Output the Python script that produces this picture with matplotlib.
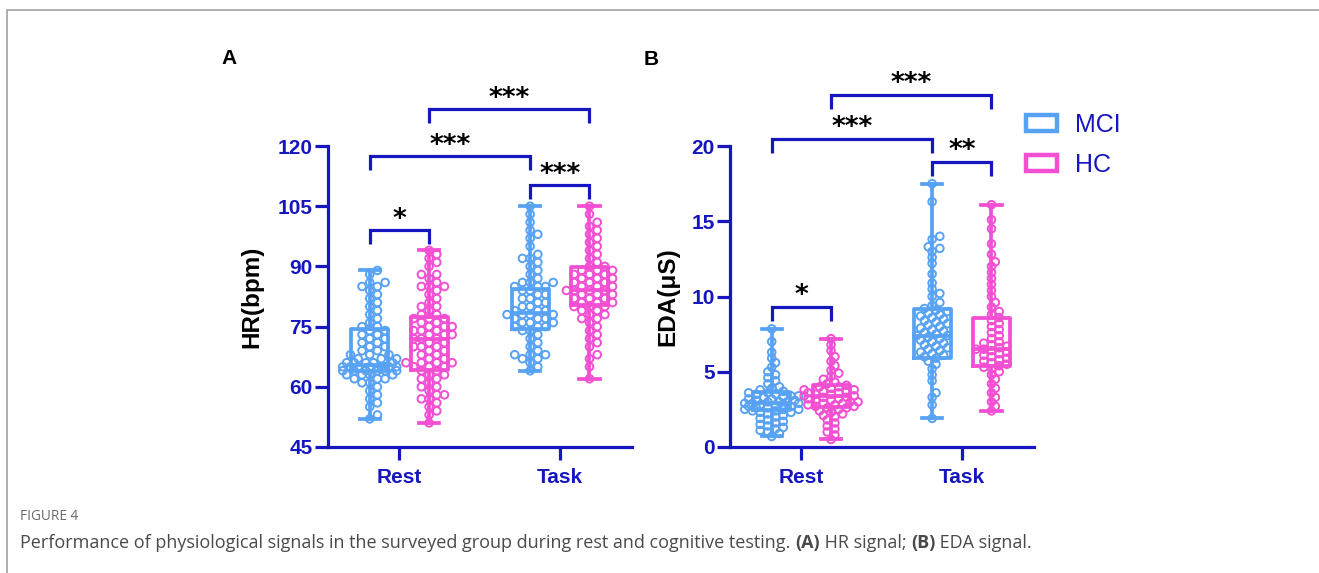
import numpy as np
import matplotlib
matplotlib.use('Agg')
import matplotlib.pyplot as plt
from matplotlib.patches import Patch, Rectangle
from matplotlib.transforms import IdentityTransform, offset_copy

# ---------------- data ----------------
conditions = ['Rest', 'Task']
groups = ['MCI', 'HC']

# individual HR values (bpm)
hr_rest_mci = [52, 53, 55, 56, 57, 58, 59, 60, 61, 61, 62, 62, 62, 63, 63, 63, 63, 64, 64, 64,
               64, 64, 64, 65, 65, 65, 65, 65, 65, 65, 65, 66, 66, 66, 66, 66, 67, 67, 67, 68,
               68, 68, 69, 69, 70, 70, 71, 71, 72, 72, 73, 73, 74, 74, 75, 75, 76, 77, 78, 79,
               80, 81, 82, 83, 84, 85, 85, 86, 86, 88, 89]
hr_rest_hc = [51, 53, 54, 55, 56, 57, 57, 58, 58, 59, 60, 60, 61, 62, 62, 63, 63, 64, 64, 65,
              65, 65, 66, 66, 66, 66, 67, 67, 68, 68, 69, 69, 70, 70, 70, 71, 71, 72, 72, 72,
              73, 73, 73, 74, 74, 74, 75, 75, 75, 76, 76, 77, 77, 77, 78, 78, 79, 80, 80, 81,
              82, 83, 84, 85, 85, 85, 86, 87, 88, 88, 90, 91, 92, 93, 94]
hr_task_mci = [64, 65, 66, 67, 67, 68, 68, 68, 69, 70, 71, 72, 73, 74, 74, 75, 75, 75, 76, 76,
               76, 77, 77, 77, 78, 78, 78, 78, 79, 79, 79, 80, 80, 81, 81, 82, 82, 83, 83, 84,
               84, 85, 85, 85, 86, 86, 86, 87, 88, 89, 90, 91, 92, 92, 93, 95, 97, 98, 99, 101,
               103, 105]
hr_task_hc = [62, 65, 67, 68, 70, 71, 72, 73, 74, 75, 76, 77, 77, 78, 78, 79, 79, 80, 80, 80,
              81, 81, 81, 82, 82, 82, 83, 83, 83, 84, 84, 84, 84, 85, 85, 85, 86, 86, 86, 87,
              87, 87, 88, 88, 88, 89, 89, 89, 90, 90, 91, 92, 93, 94, 95, 96, 97, 98, 99, 100,
              101, 103, 105]

# individual EDA values (uS)
eda_rest_mci = [0.7, 0.9, 1.0, 1.1, 1.2, 1.3, 1.4, 1.5, 1.6, 1.7, 1.8, 1.9, 2.0, 2.1, 2.2, 2.3,
                2.3, 2.4, 2.4, 2.5, 2.5, 2.5, 2.6, 2.6, 2.7, 2.7, 2.8, 2.8, 2.8, 2.9, 2.9, 2.9,
                3.0, 3.0, 3.0, 3.1, 3.1, 3.2, 3.2, 3.3, 3.3, 3.4, 3.4, 3.5, 3.5, 3.6, 3.6, 3.7,
                3.8, 3.9, 4.0, 4.2, 4.4, 4.6, 4.8, 5.0, 5.3, 5.6, 5.9, 6.3, 7.0, 7.85]
eda_rest_hc = [0.5, 0.8, 1.0, 1.2, 1.4, 1.6, 1.8, 2.0, 2.1, 2.2, 2.3, 2.4, 2.5, 2.6, 2.6, 2.7,
               2.7, 2.8, 2.8, 2.9, 2.9, 3.0, 3.0, 3.1, 3.1, 3.2, 3.2, 3.3, 3.3, 3.4, 3.4, 3.5,
               3.5, 3.6, 3.6, 3.7, 3.7, 3.8, 3.8, 3.9, 4.0, 4.0, 4.1, 4.2, 4.3, 4.5, 4.7, 4.9,
               5.1, 5.4, 5.7, 6.0, 6.4, 6.8, 7.2]
eda_task_mci = [1.9, 2.8, 3.3, 3.6, 4.4, 4.8, 5.2, 5.5, 5.7, 5.9, 6.0, 6.1, 6.2, 6.3, 6.4, 6.5,
                6.6, 6.7, 6.8, 6.9, 7.0, 7.1, 7.2, 7.3, 7.4, 7.4, 7.5, 7.6, 7.7, 7.8, 7.9, 8.0,
                8.1, 8.2, 8.3, 8.4, 8.5, 8.6, 8.7, 8.8, 8.9, 9.0, 9.1, 9.2, 9.4, 9.6, 10.0, 10.2,
                10.5, 10.9, 11.5, 12.2, 12.6, 13.0, 13.2, 13.3, 13.8, 14.0, 16.3, 17.5]
eda_task_hc = [2.4, 2.7, 3.0, 3.3, 3.6, 3.9, 4.2, 4.5, 4.8, 5.0, 5.2, 5.3, 5.4, 5.5, 5.6, 5.7,
               5.8, 5.9, 6.0, 6.1, 6.2, 6.3, 6.4, 6.5, 6.5, 6.6, 6.7, 6.8, 6.9, 7.0, 7.2, 7.4,
               7.6, 7.8, 8.0, 8.2, 8.4, 8.6, 8.8, 9.0, 9.3, 9.6, 10.0, 10.4, 10.8, 11.2, 11.6,
               12.0, 12.3, 12.8, 13.5, 14.5, 15.1, 16.1]

# box summaries (min, Q1, median, Q3, max) per condition [Rest, Task]
hr_box_mci = [[52, 64.0, 65.5, 74.5, 89], [64, 74.5, 78.3, 84.3, 105]]
hr_box_hc = [[51, 64.2, 72.0, 77.5, 94], [62, 80.4, 84.2, 89.75, 105]]
eda_box_mci = [[0.7, 2.44, 2.9, 3.66, 7.85], [1.9, 5.9, 7.4, 9.2, 17.5]]
eda_box_hc = [[0.5, 2.66, 3.37, 4.1, 7.2], [2.4, 5.4, 6.5, 8.6, 16.1]]

# significance brackets: (condition, group) pairs, bracket height, label
sig_pairs = [((0, 0), (0, 1)), ((1, 0), (1, 1)), ((0, 0), (1, 0)), ((0, 1), (1, 1))]
hr_sig_y = [99.0, 110.25, 117.5, 129.2]
hr_sig_labels = ['*', '***', '***', '***']
eda_sig_y = [9.31, 18.94, 20.47, 23.4]
eda_sig_labels = ['*', '**', '***', '***']

hr_ticks = [45, 60, 75, 90, 105, 120]
eda_ticks = [0, 5, 10, 15, 20]

# ---------------- style ----------------
W, H = 1319, 573
AXC = '#1616c0'
COLORS = ['#58a2f3', '#f24fd3']
OFFS = [-0.185, 0.185]
FONT = 'Liberation Sans'

fig = plt.figure(figsize=(W / 100, H / 100), dpi=100)

# page border (top & left visible)
fig.add_artist(Rectangle((7, -30), W + 40, H - 10 + 30, transform=IdentityTransform(),
                         facecolor='none', edgecolor='#a8a8a8', lw=1.3))


def swarm(values, ymin, ymax, hpx, d=7.0, maxw=28):
    vals = np.asarray(values, float)
    ypx = (vals - ymin) / (ymax - ymin) * hpx
    order = np.argsort(ypx, kind='stable')
    step = d * 0.55
    cands = [0.0]
    k = 1
    while k * step <= maxw:
        cands += [k * step, -k * step]
        k += 1
    px, py = [], []
    xs = np.zeros(len(vals))
    mind = d * 0.8
    for i in order:
        y = ypx[i]
        best, bestd = 0.0, -1
        for c in cands:
            if px:
                dd = np.min(np.hypot(np.array(px) - c, np.array(py) - y))
            else:
                dd = 1e9
            if dd >= mind:
                best = c
                break
            if dd > bestd:
                bestd, best = dd, c
        xs[i] = best
        px.append(best)
        py.append(y)
    return xs


def panel(rect, data, boxes, ylim, ticks, ylabel, sig_y, sig_labels, letter, letter_xy, label_x):
    ax = fig.add_axes(rect)
    ax.set_xlim(0.555, 2.45)
    ax.set_ylim(*ylim)
    wpx = rect[2] * W
    hpx = rect[3] * H
    ppu = wpx / (2.45 - 0.555)
    for ci in range(2):
        for gi in range(2):
            pos = ci + 1 + OFFS[gi]
            c = COLORS[gi]
            mn, q1, med, q3, mx = boxes[gi][ci]
            st = [dict(whislo=mn, q1=q1, med=med, q3=q3, whishi=mx, fliers=[])]
            lw = 2.7
            ax.bxp(st, positions=[pos], widths=0.23, capwidths=0.125, showfliers=False,
                   boxprops=dict(color=c, lw=lw), whiskerprops=dict(color=c, lw=lw),
                   capprops=dict(color=c, lw=lw), medianprops=dict(color=c, lw=lw),
                   manage_ticks=False, zorder=2)
            vals = data[ci][gi]
            xo = swarm(vals, ylim[0], ylim[1], hpx)
            ax.scatter(pos + xo / ppu, vals, s=30, facecolors='none', edgecolors=c,
                       linewidths=1.4, zorder=3, clip_on=False)
    # brackets
    leg = 14 / hpx * (ylim[1] - ylim[0])
    for (a, b), y, lab in zip(sig_pairs, sig_y, sig_labels):
        x1 = a[0] + 1 + OFFS[a[1]]
        x2 = b[0] + 1 + OFFS[b[1]]
        ax.plot([x1, x1, x2, x2], [y - leg, y, y, y - leg], color=AXC, lw=2.3,
                clip_on=False, solid_joinstyle='miter', solid_capstyle='butt')
        tr = offset_copy(ax.transData, fig=fig, x=0, y=3.5, units='dots')
        ax.text((x1 + x2) / 2, y, lab, transform=tr, ha='center', va='baseline',
                fontsize=19, fontweight='bold', family='DejaVu Sans', color='black',
                clip_on=False)
    # axes styling
    for s in ['top', 'right']:
        ax.spines[s].set_visible(False)
    for s in ['left', 'bottom']:
        ax.spines[s].set_color(AXC)
        ax.spines[s].set_linewidth(2.3)
    ax.spines['left'].set_bounds(ylim[0], ylim[1])
    ax.set_yticks(ticks)
    ax.set_xticks([1, 2])
    ax.set_xticklabels(conditions)
    ax.tick_params(axis='y', colors=AXC, length=9.5, width=2.3, pad=1.5, labelsize=15)
    ax.tick_params(axis='x', colors=AXC, length=9, width=2.3, pad=6, labelsize=15)
    for t in ax.get_xticklabels() + ax.get_yticklabels():
        t.set_fontweight('bold')
        t.set_family(FONT)
    ax.set_ylabel(ylabel, fontsize=17.5, fontweight='bold', family=FONT, color='black')
    ax.yaxis.set_label_coords(label_x, 0.5)
    ax.yaxis.label.set_va('center')
    ax.patch.set_visible(False)
    fig.text(letter_xy[0] / W, 1 - letter_xy[1] / H, letter, fontsize=15, fontweight='bold',
             family=FONT, ha='left', va='top')
    return ax


rect_a = [328 / W, 1 - 447 / H, 304 / W, 301 / H]
rect_b = [730 / W, 1 - 447 / H, 304 / W, 301 / H]
ax_a = panel(rect_a, [[hr_rest_mci, hr_rest_hc], [hr_task_mci, hr_task_hc]],
             [hr_box_mci, hr_box_hc], (45, 120), hr_ticks, 'HR(bpm)', hr_sig_y,
             hr_sig_labels, 'A', (221, 49), -0.25)
ax_b = panel(rect_b, [[eda_rest_mci, eda_rest_hc], [eda_task_mci, eda_task_hc]],
             [eda_box_mci, eda_box_hc], (0, 20), eda_ticks, 'EDA(μS)', eda_sig_y,
             eda_sig_labels, 'B', (644, 50), -0.205)

handles = [Patch(facecolor='white', edgecolor=COLORS[i], linewidth=3.2, label=groups[i])
           for i in range(2)]
ax_b.legend(handles=handles, loc='upper left', bbox_to_anchor=(1026 / W, 1 - 113 / H),
            bbox_transform=fig.transFigure, frameon=False, prop=dict(family=FONT, size=18),
            labelcolor=AXC, handlelength=1.22, handleheight=0.6, handletextpad=0.75,
            labelspacing=0.62, borderpad=0, borderaxespad=0)

# caption
CAPF = 'Open Sans'
fig.text(20 / W, 1 - 517 / H, 'FIGURE 4', fontsize=9.8, family=CAPF, color='#6a6a6a',
         va='center', ha='left')
pieces = [('Performance of physiological signals in the surveyed group during rest and '
           'cognitive testing. ', 'normal'), ('(A)', 'bold'), (' HR signal; ', 'normal'),
          ('(B)', 'bold'), (' EDA signal.', 'normal')]
renderer = fig.canvas.get_renderer()
xpos = 20
for txt, wgt in pieces:
    t = fig.text(xpos / W, 1 - 543 / H, txt, fontsize=13, family=CAPF, color='#4a4a4a',
                 fontweight=wgt, va='center', ha='left')
    bb = t.get_window_extent(renderer=renderer)
    xpos = bb.x1

fig.savefig('out.png', dpi=100)
